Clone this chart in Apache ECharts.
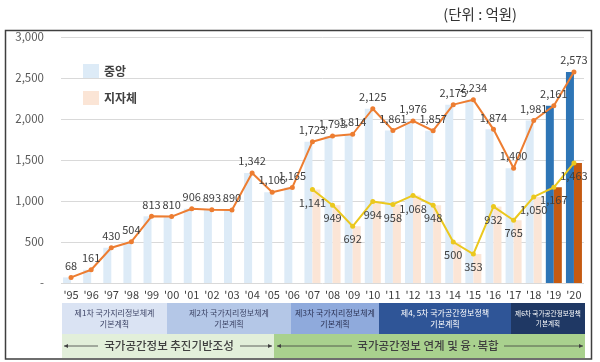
<!DOCTYPE html>
<html>
<head>
<meta charset="utf-8">
<script src="https://cdn.jsdelivr.net/npm/echarts@6/dist/echarts.min.js"></script>
<style>
html,body{margin:0;padding:0;background:#fff;}
#c{width:600px;height:362px;}
</style>
</head>
<body>
<div id="c"></div>
<script>
var years = ["'95","'96","'97","'98","'99","'00","'01","'02","'03","'04","'05","'06","'07","'08","'09","'10","'11","'12","'13","'14","'15","'16","'17","'18","'19","'20"];
var central = [68,161,430,504,813,810,906,893,890,1342,1106,1165,1723,1793,1814,2125,1861,1976,1857,2175,2234,1874,1400,1981,2161,2573];
var local = [null,null,null,null,null,null,null,null,null,null,null,null,1141,949,692,994,958,1068,948,500,353,932,765,1050,1167,1463];
var yTicks = [0,500,1000,1500,2000,2500,3000];
var legendNames = ['중앙','지자체'];
var planBands = [
  {text:'제1차 국가지리정보체계\n기본계획'},
  {text:'제2차 국가지리정보체계\n기본계획'},
  {text:'제3차 국가지리정보체계\n기본계획'},
  {text:'제4, 5차 국가공간정보정책\n기본계획'},
  {text:'제6차 국가공간정보정책\n기본계획'}
];
var phaseBands = ['국가공간정보 추진기반조성','국가공간정보 연계 및 융·복합'];
var unitText = '(단위 : 억원)';

var FONT = '"Noto Sans CJK KR","Noto Sans",sans-serif';
var chart = echarts.init(document.getElementById('c'), null, {renderer:'canvas'});

var darkFrom = 24;
var blueData = central.map(function(v,i){
  return i>=darkFrom ? {value:v,itemStyle:{color:'#2e75b6'}} : v;
});
var orangeData = local.map(function(v,i){
  return i>=darkFrom ? {value:v,itemStyle:{color:'#c55a11'}} : v;
});

function fmt(v){ return v===0 ? '-' : String(v).replace(/\B(?=(\d{3})+(?!\d))/g, ','); }

var bandX = [62,167,291,379,511,585];
var bandFill = ['#dae3f3','#b4c7e7','#8faadc','#2f5597','#1f3864'];
var bandTextColor = ['#3d4466','#3d4466','#2c3355','#ffffff','#ffffff'];
var bandFont = [8,8,8,8,6.6];
var graphic = [];
graphic.push({type:'rect',shape:{x:5.5,y:30.5,width:586,height:328.5},style:{fill:'none',stroke:'#3f3f3f',lineWidth:1.5},z:100,silent:true});
graphic.push({type:'text',style:{x:517,y:14,text:unitText,textAlign:'right',textVerticalAlign:'middle',font:'14.5px '+FONT,fill:'#333'}});
for (var b=0;b<planBands.length;b++){
  graphic.push({type:'rect',shape:{x:bandX[b],y:303,width:bandX[b+1]-bandX[b],height:31},style:{fill:bandFill[b]}});
  graphic.push({type:'text',style:{x:(bandX[b]+bandX[b+1])/2,y:318.5,text:planBands[b].text,textAlign:'center',textVerticalAlign:'middle',font:bandFont[b]+'px '+FONT,fill:bandTextColor[b],lineHeight:10.5}});
}
var gX = [62,274,585];
var gFill = ['#e2efda','#a9d18e'];
for (var g=0; g<2; g++){
  graphic.push({type:'rect',shape:{x:gX[g],y:334,width:gX[g+1]-gX[g],height:24},style:{fill:gFill[g]}});
}
var phaseCenters = [169,428];
var phaseHalf = [67,72];
var arrowSpans = [[64,272],[277,583]];
for (var p=0;p<2;p++){
  var cy = 346;
  graphic.push({type:'text',style:{x:phaseCenters[p],y:cy,text:phaseBands[p],textAlign:'center',textVerticalAlign:'middle',font:'500 11.5px '+FONT,fill:'#404040'}});
  var l0 = arrowSpans[p][0], r1 = arrowSpans[p][1];
  var ls = phaseCenters[p]-phaseHalf[p]-4, rs = phaseCenters[p]+phaseHalf[p]+4;
  graphic.push({type:'line',shape:{x1:l0,y1:cy,x2:ls,y2:cy},style:{stroke:'#404040',lineWidth:0.8}});
  graphic.push({type:'line',shape:{x1:rs,y1:cy,x2:r1,y2:cy},style:{stroke:'#404040',lineWidth:0.8}});
  graphic.push({type:'polygon',shape:{points:[[l0,cy],[l0+4,cy-2],[l0+4,cy+2]]},style:{fill:'#404040'}});
  graphic.push({type:'polygon',shape:{points:[[r1,cy],[r1-4,cy-2],[r1-4,cy+2]]},style:{fill:'#404040'}});
}

var option = {
  animation:false,
  backgroundColor:'#fff',
  textStyle:{fontFamily:FONT},
  grid:{left:61,right:16,top:37,bottom:79},
  legend:{
    data:legendNames, orient:'vertical', left:78, top:59, itemWidth:16, itemHeight:14, itemGap:13,
    icon:'rect', textStyle:{fontSize:12, color:'#404040', fontWeight:'bold', fontFamily:FONT}
  },
  xAxis:{
    type:'category', data:years,
    axisLine:{show:false}, axisTick:{show:false},
    axisLabel:{fontSize:11, color:'#404040', margin:6, interval:0}
  },
  yAxis:{
    type:'value', min:yTicks[0], max:yTicks[yTicks.length-1], interval:yTicks[1]-yTicks[0],
    axisLine:{show:false}, axisTick:{show:false},
    axisLabel:{fontSize:11.5, color:'#595959', margin:17, formatter:fmt},
    splitLine:{lineStyle:{color:'#d9d9d9', width:1}}
  },
  series:[
    {name:legendNames[0], type:'bar', data:blueData, barWidth:8, barGap:'0%', itemStyle:{color:'#ddebf7'}, z:1},
    {name:legendNames[1], type:'bar', data:orangeData, barWidth:8, barGap:'0%', itemStyle:{color:'#fbe5d6'}, z:1},
    {name:'합계', type:'line', data:central, symbol:'circle', symbolSize:5, z:5,
      itemStyle:{color:'#ed7d31'}, lineStyle:{color:'#ed7d31', width:2},
      label:{show:true, position:'top', distance:4, fontSize:11, color:'#404040', formatter:function(p){return fmt(p.value);}}},
    {name:'지자체선', type:'line', data:local, symbol:'circle', symbolSize:5, z:5, connectNulls:false,
      itemStyle:{color:'#ebc81e'}, lineStyle:{color:'#ebc81e', width:2},
      label:{show:true, position:'bottom', distance:5, fontSize:11, color:'#404040', formatter:function(p){return fmt(p.value);}}}
  ],
  graphic:graphic
};
chart.setOption(option);
</script>
</body>
</html>
